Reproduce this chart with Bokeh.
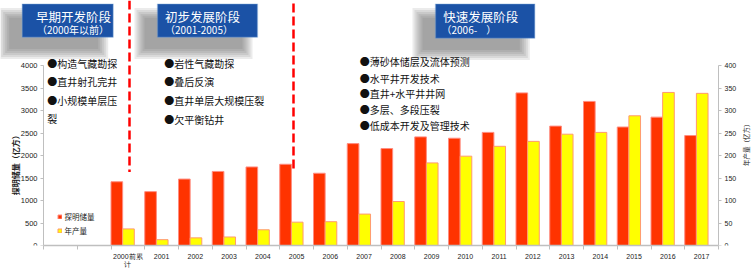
import math
from bokeh.plotting import figure
from bokeh.models import (Range1d, LinearAxis, FixedTicker, Label, BoxAnnotation,
                          Legend, LegendItem, ColumnDataSource)
from bokeh.transform import dodge
from bokeh.embed import file_html
from bokeh.resources import INLINE

# ---------------- data ----------------
categories = ["", "", "2000前累计", "2001", "2002", "2003", "2004", "2005", "2006",
              "2007", "2008", "2009", "2010", "2011", "2012", "2013", "2014",
              "2015", "2016", "2017"]
tick_labels = ["", "", "2000前累\n计", "2001", "2002", "2003", "2004", "2005", "2006",
               "2007", "2008", "2009", "2010", "2011", "2012", "2013", "2014",
               "2015", "2016", "2017"]
reserves = [None, None, 1420, 1200, 1480, 1650, 1750, 1810, 1610, 2270, 2160,
            2420, 2390, 2520, 3400, 2660, 3210, 2640, 2860, 2450]
production = [None, None, 37, 13, 17, 19, 35, 52, 53, 70, 98, 184, 199, 221,
              232, 248, 252, 289, 341, 339]
series_names = ["探明储量", "年产量"]
left_ticks = [0, 500, 1000, 1500, 2000, 2500, 3000, 3500, 4000]
right_ticks = [0, 50, 100, 150, 200, 250, 300, 350, 400]
left_title = "探明储量（亿方）"
right_title = "年产量（亿方）"

phase_titles = ["早期开发阶段", "初步发展阶段", "快速发展阶段"]
phase_subtitles = ["（2000年以前）", "（2001-2005）", "（2006-\u00a0\u00a0\u00a0\u00a0）"]
phase1_items = ["●构造气藏勘探", "●直井射孔完井", "●小规模单层压", "裂"]
phase2_items = ["●岩性气藏勘探", "●叠后反演", "●直井单层大规模压裂", "●欠平衡钻井"]
phase3_items = ["●薄砂体储层及流体预测", "●水平井开发技术", "●直井+水平井井网",
                "●多层、多段压裂", "●低成本开发及管理技术"]

# ---------------- layout helpers ----------------
W, H = 751, 270
AL, AR = 43, 718          # canvas pixel of left / right value axes
FB = 247                  # canvas pixel of the category axis
NCAT = len(categories)
CATW = (AR - AL) / NCAT
Y_PX_4000 = 66
YTOP = FB / (FB - Y_PX_4000) * 4000
Y2TOP = YTOP / 10.0


def px2x(px):
    return (px - AL) / CATW - 0.5


def px2y(py):
    return (FB - py) / (FB - Y_PX_4000) * 4000


RED = "#FF3300"
YEL = "#FFFF00"
CJK = "Noto Sans CJK SC"

p = figure(width=W, height=H, x_range=Range1d(px2x(0), px2x(W)),
           y_range=Range1d(0, YTOP), output_backend="svg", toolbar_location=None,
           min_border_left=0, min_border_right=0, min_border_top=0,
           min_border_bottom=H - FB, outline_line_color=None,
           background_fill_color="white", border_fill_color="white")
p.extra_y_ranges = {"prod": Range1d(0, Y2TOP)}
p.grid.visible = False

idx = [i for i, v in enumerate(reserves) if v is not None]
src = ColumnDataSource(dict(
    x=idx,
    res=[reserves[i] for i in idx],
    prod=[production[i] for i in idx],
))

bw = 0.345
r_red = p.vbar(x=dodge("x", -0.5 + bw / 2, range=p.x_range), top="res", bottom=0,
               width=bw, source=src, fill_color=RED, line_color="#FF8C80",
               line_width=1)
r_yel = p.vbar(x=dodge("x", -0.5 + bw * 1.5, range=p.x_range), top="prod", bottom=0,
               width=bw, source=src, fill_color=YEL, line_color="#FF9A70",
               line_width=1, y_range_name="prod")

# ---------------- axes ----------------
ax = p.xaxis[0]
ax.bounds = (-0.5, NCAT - 0.5)
ax.ticker = FixedTicker(ticks=idx, minor_ticks=[i - 0.5 for i in range(NCAT + 1)])
ax.major_label_overrides = {i: tick_labels[i] for i in idx}
ax.major_tick_out = 0
ax.major_tick_in = 0
ax.minor_tick_out = 4
ax.minor_tick_in = 0
ax.minor_tick_line_color = "#BFBFBF"
ax.axis_line_color = "#BFBFBF"
ax.axis_line_width = 1.5
ax.major_label_standoff = 3
ax.major_label_text_font = "Liberation Sans"
ax.major_label_text_font_size = "7px"
ax.major_label_text_color = "#222222"

ly = p.yaxis[0]
ly.fixed_location = -0.5
ly.bounds = (0, 4000)
ly.ticker = FixedTicker(ticks=left_ticks)
ly.major_tick_out = 3
ly.major_tick_in = 0
ly.minor_tick_out = 0
ly.minor_tick_in = 0
ly.axis_line_color = "#BFBFBF"
ly.major_tick_line_color = "#BFBFBF"
ly.major_label_standoff = 3
ly.major_label_text_font = "Liberation Sans"
ly.major_label_text_font_size = "7.5px"
ly.major_label_text_color = "#222222"

ry = LinearAxis(y_range_name="prod", bounds=(0, 400),
                ticker=FixedTicker(ticks=right_ticks))
ry.fixed_location = NCAT - 0.5
ry.major_tick_out = 3
ry.major_tick_in = 0
ry.minor_tick_out = 0
ry.minor_tick_in = 0
ry.axis_line_color = "#BFBFBF"
ry.major_tick_line_color = "#BFBFBF"
ry.major_label_standoff = 3
ry.major_label_text_font = "Liberation Sans"
ry.major_label_text_font_size = "7px"
ry.major_label_text_color = "#222222"
p.add_layout(ry, "right")

p.add_layout(Label(x=px2x(15), y=px2y(164), text=left_title, angle=math.pi / 2,
                   text_align="center", text_baseline="middle", text_font=CJK,
                   text_font_size="8px", text_font_style="bold", text_color="#222222"))
p.add_layout(Label(x=px2x(745), y=px2y(144), text=right_title, angle=math.pi / 2,
                   text_align="center", text_baseline="middle", text_font=CJK,
                   text_font_size="6.5px", text_color="#222222"))

# ---------------- dashed separators ----------------
p.segment(x0=[px2x(129), px2x(293)], x1=[px2x(129), px2x(293)],
          y0=[px2y(0), px2y(3)], y1=[px2y(173), px2y(173)],
          line_color="#FF0000", line_width=2.5, line_dash="9 4")

# ---------------- header boxes ----------------
boxes = [(21.7, 112.7, 3.5, 37), (157, 257, 3.5, 37), (435, 534.3, 3.5, 38)]
for (l, r, t, b) in boxes:
    for k in range(6):
        g = 9 - 2 * k
        p.add_layout(BoxAnnotation(left=px2x(l - 14 - g), right=px2x(r - 14 + g),
                                   top=px2y(t + 13 - g), bottom=px2y(b + 13 + g),
                                   fill_color="#5A5A5A", fill_alpha=0.12,
                                   line_color=None))
for (l, r, t, b) in boxes:
    p.add_layout(BoxAnnotation(left=px2x(l), right=px2x(r), top=px2y(t),
                               bottom=px2y(b), fill_color="#1B52A6", fill_alpha=1,
                               line_color="#7FA8DC", line_width=1.5))

title_pos = [(73, "center"), (202, "center"), (442.7, "left")]
sub_pos = [(72.5, "center"), (198.5, "center"), (441, "left")]
for i in range(3):
    p.add_layout(Label(x=px2x(title_pos[i][0]), y=px2y(16), text=phase_titles[i],
                       text_align=title_pos[i][1], text_baseline="middle",
                       text_font=CJK, text_font_size="12.5px", text_color="white"))
    p.add_layout(Label(x=px2x(sub_pos[i][0]), y=px2y(29), text=phase_subtitles[i],
                       text_align=sub_pos[i][1], text_baseline="middle",
                       text_font=CJK, text_font_size="10px", text_color="white"))

# ---------------- bullet texts ----------------
bullet_groups = [
    (46.7, [63.7, 82, 101, 118.7], phase1_items),
    (163.7, [63.3, 82, 101, 119.7], phase2_items),
    (359.3, [61.7, 78.3, 94, 110, 126], phase3_items),
]
for x0, ys, items in bullet_groups:
    for yy, t in zip(ys, items):
        p.add_layout(Label(x=px2x(x0), y=px2y(yy), text=t, text_align="left",
                           text_baseline="middle", text_font=CJK,
                           text_font_size="10px", text_color="#111111"))

# ---------------- legend ----------------
legend = Legend(items=[LegendItem(label=series_names[0], renderers=[r_red]),
                       LegendItem(label=series_names[1], renderers=[r_yel])],
                location=(56.5, 9.5), orientation="vertical",
                glyph_width=5, glyph_height=5, label_height=10, label_standoff=3,
                spacing=3, padding=0, margin=0, border_line_color=None,
                background_fill_alpha=0, label_text_font=CJK,
                label_text_font_size="7.5px", label_text_color="#222222")
p.add_layout(legend)

open("out.html", "w").write(file_html(p, INLINE))
